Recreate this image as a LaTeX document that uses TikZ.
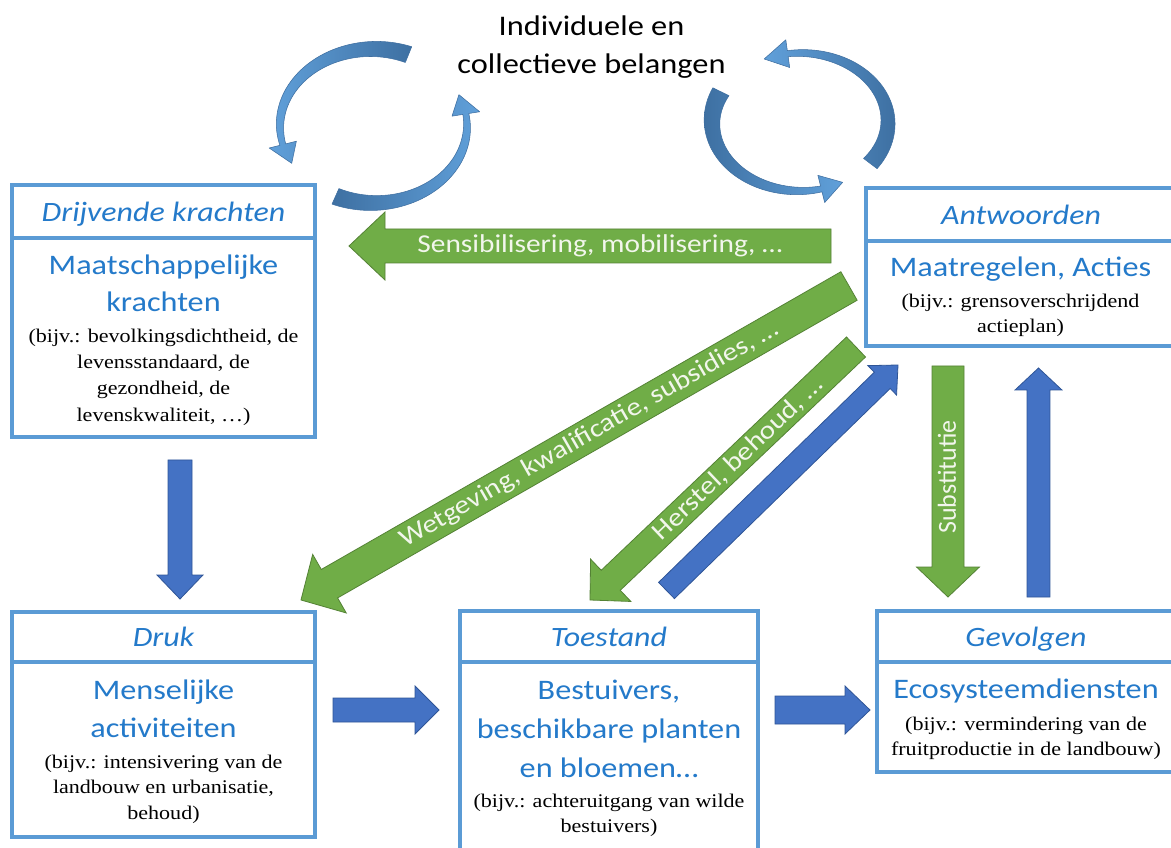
\documentclass[tikz,border=0pt]{standalone}
\usepackage{fontspec}
\usetikzlibrary{calc}
\newfontfamily\calst[FakeStretch=1.14]{Carlito}
\newfontfamily\calrot{Carlito}
\newfontfamily\serst[FakeStretch=1.14]{Liberation Serif}
\definecolor{boxblue}{RGB}{91,155,213}
\definecolor{txtblue}{RGB}{36,122,202}
\definecolor{arrblue}{RGB}{68,114,196}
\definecolor{arrblueline}{RGB}{47,85,151}
\definecolor{arrgreen}{RGB}{112,173,71}
\definecolor{arrgreenline}{RGB}{84,130,53}
\definecolor{curvedark}{RGB}{62,112,162}
\definecolor{curvelight}{RGB}{96,160,218}
\definecolor{curveline}{RGB}{62,110,160}
\definecolor{lighttxt}{RGB}{242,246,236}

% block arrow: #1 style, #2 tail, #3 tip, #4 shaft half width, #5 head half width, #6 head length
\newcommand\blockarrow[6]{%
  \coordinate (#3-hb) at ($(#3)!#6!(#2)$);
  \path[#1] ($(#2)!#4!90:(#3)$) -- ($(#3-hb)!#4!90:(#3)$) -- ($(#3-hb)!#5!90:(#3)$) -- (#3)
    -- ($(#3-hb)!#5!-90:(#3)$) -- ($(#3-hb)!#4!-90:(#3)$) -- ($(#2)!#4!-90:(#3)$) -- cycle;
}
% curved tapered arrow on an ellipse: #1 cx #2 cy #3 rx #4 ry #5 t1 #6 t2 #7 w1 #8 w2 #9 head half width
% \hd = head length (deg), \cstyle = style of the fill
\newcommand\hd{14}
\newcommand\cstyle{}
\newcommand\curvarr[9]{%
  \path[curvestyle, \cstyle]
  plot[domain=#5:#6, samples=50, variable=\t]
    ({#1+(#3+#7+(#8-#7)*(\t-(#5))/((#6)-(#5)))*cos(\t)}, {#2+(#4+#7+(#8-#7)*(\t-(#5))/((#6)-(#5)))*sin(\t)})
  -- ({#1+(#3+#9)*cos(#6)}, {#2+(#4+#9)*sin(#6)})
  -- ({#1+#3*cos(#6-\hd)}, {#2+#4*sin(#6-\hd)})
  -- ({#1+(#3-#9)*cos(#6)}, {#2+(#4-#9)*sin(#6)})
  -- plot[domain=#6:#5, samples=50, variable=\t]
    ({#1+(#3-#7-(#8-#7)*(\t-(#5))/((#6)-(#5)))*cos(\t)}, {#2+(#4-#7-(#8-#7)*(\t-(#5))/((#6)-(#5)))*sin(\t)})
  -- cycle;
}

\tikzset{
  hdr/.style={draw=boxblue, line width=2.5pt, inner sep=0pt, outer sep=0pt, text=txtblue,
    text height=16pt, text depth=1.5pt,
    font=\calst\itshape\fontsize{21pt}{25pt}\selectfont},
  bodybox/.style={draw=boxblue, line width=2.5pt, inner sep=0pt, outer sep=0pt},
  bluetxt/.style={text=txtblue, align=center, inner sep=0pt, font=\calst\fontsize{21.2pt}{#1}\selectfont},
  bluetxt/.default=27.75pt,
  extxt/.style={text=black, align=center, inner sep=0pt, font=\serst\fontsize{14.5pt}{#1}\selectfont},
  extxt/.default=19.1pt,
  titletxt/.style={text=black, align=center, inner sep=0pt, font=\calst\fontsize{21.3pt}{28.5pt}\selectfont},
  bluearrow/.style={fill=arrblue, draw=arrblueline, line width=0.6pt, line join=miter},
  greenarrow/.style={fill=arrgreen, draw=arrgreenline, line width=0.6pt, line join=miter},
  greentxt/.style={text=lighttxt, inner sep=0pt, font=\calst\fontsize{19.3pt}{22pt}\selectfont},
  greenrot/.style={text=lighttxt, inner sep=0pt, font=\calrot\fontsize{19.5pt}{22pt}\selectfont},
  curvestyle/.style={draw=curveline, line width=0.4pt, line join=round},
  darkleft/.style={left color=curvedark, right color=curvelight},
  darkright/.style={left color=curvelight, right color=curvedark},
}

\begin{document}
\begin{tikzpicture}[x=0.75pt, y=-0.75pt]
\useasboundingbox (0,0) rectangle (1171,848);
\fill[white] (0,0) rectangle (1171,848);
\clip (0,0) rectangle (1171,848);

% title
\node[titletxt] (title) at (591.5,47) {Individuele en\\collectieve belangen};

% curved arrows (left loop)
\renewcommand\hd{15}
\renewcommand\cstyle{darkright}
\curvarr{373.5}{126}{93.5}{77}{-68}{-194}{8.5}{3}{14}
\renewcommand\cstyle{darkleft}
\curvarr{373.5}{126}{93.5}{77}{114}{-9}{8.5}{3}{14}
% curved arrows (right loop)
\renewcommand\cstyle{darkleft}
\curvarr{800}{122}{88}{69}{206}{76}{9}{3}{14}
\renewcommand\hd{16}
\renewcommand\cstyle{darkright}
\curvarr{800}{122}{88}{69}{37}{-98}{8.5}{3}{14}

% Drijvende krachten
\node[hdr, minimum width=227.25pt, minimum height=39.75pt] (dkh) at (163.5,211.5) {Drijvende krachten};
\node[bodybox, minimum width=227.25pt, minimum height=149.25pt] (dkb) at (163.5,337.5) {};
\node[bluetxt=27.75pt] (dkt) at (163.5,283.5) {Maatschappelijke\\krachten};
\node[extxt=19.7pt] (dke) at (163.5,377) {(bijv.: bevolkingsdichtheid, de\\levensstandaard, de\\gezondheid, de\\levenskwaliteit, …)};

% Antwoorden
\node[hdr, minimum width=232.5pt, minimum height=39.75pt] (anh) at (1021,214.5) {Antwoorden};
\node[bodybox, minimum width=232.5pt, minimum height=78.75pt] (anb) at (1021,293.5) {};
\node[bluetxt] (ant) at (1020.5,269) {Maatregelen, Acties};
\node[extxt=18.75pt] (ane) at (1020.5,315) {(bijv.: grensoverschrijdend\\actieplan)};

% Druk
\node[hdr, minimum width=227.25pt, minimum height=37.5pt] (drh) at (163.5,637) {Druk};
\node[bodybox, minimum width=227.25pt, minimum height=131.25pt] (drb) at (163.5,749.5) {};
\node[bluetxt=28.5pt] (drt) at (163.5,709) {Menselijke\\activiteiten};
\node[extxt] (dre) at (163.5,789) {(bijv.: intensivering van de\\landbouw en urbanisatie,\\behoud)};

% Toestand
\node[hdr, minimum width=223.5pt, minimum height=38.25pt] (toh) at (609,636.5) {Toestand};
\node[bodybox, minimum width=223.5pt, minimum height=145.5pt] (tob) at (609,759) {};
\node[bluetxt=29.25pt] (tot) at (609,729) {Bestuivers,\\beschikbare planten\\en bloemen…};
\node[extxt=18.75pt] (toe) at (609,815) {(bijv.: achteruitgang van wilde\\bestuivers)};

% Gevolgen
\node[hdr, minimum width=223.5pt, minimum height=38.25pt] (gvh) at (1026,636.5) {Gevolgen};
\node[bodybox, minimum width=223.5pt, minimum height=82.5pt] (gvb) at (1026,717) {};
\node[bluetxt] (gvt) at (1026,691) {Ecosysteemdiensten};
\node[extxt=19.1pt] (gve) at (1026,738.5) {(bijv.: vermindering van de\\fruitproductie in de landbouw)};

% blue block arrows
\coordinate (b1s) at (180,460);   \coordinate (b1e) at (180,599);
\blockarrow{bluearrow}{b1s}{b1e}{9pt}{17.25pt}{18pt}
\coordinate (b2s) at (333,710);   \coordinate (b2e) at (439,710);
\blockarrow{bluearrow}{b2s}{b2e}{9pt}{18pt}{18pt}
\coordinate (b3s) at (775,710);   \coordinate (b3e) at (870,710);
\blockarrow{bluearrow}{b3s}{b3e}{10.5pt}{18pt}{18.75pt}
\coordinate (b4s) at (1038.5,597); \coordinate (b4e) at (1038.5,368);
\blockarrow{bluearrow}{b4s}{b4e}{8.6pt}{17.6pt}{16.5pt}
\coordinate (b5s) at (666.5,590.5); \coordinate (b5e) at (898,365);
\blockarrow{bluearrow}{b5s}{b5e}{8.5pt}{15.4pt}{16.5pt}

% green arrows
\coordinate (g1s) at (831,246);   \coordinate (g1e) at (349,246);
\blockarrow{greenarrow}{g1s}{g1e}{12.75pt}{25.5pt}{27pt}
\node[greentxt] (g1t) at (600,246) {Sensibilisering, mobilisering, …};

\coordinate (g2s) at (849,286);   \coordinate (g2e) at (301,600);
\blockarrow{greenarrow}{g2s}{g2e}{12.3pt}{25.3pt}{24.6pt}
\path (g2e-hb) -- (g2s) node[greentxt, midway, sloped] (g2t) {Wetgeving, kwalificatie, subsidies, …};

\coordinate (g3s) at (856,347);   \coordinate (g3e) at (590,600);
\blockarrow{greenarrow}{g3s}{g3e}{10.35pt}{21.9pt}{21.45pt}
\path (g3e-hb) -- (g3s) node[greentxt, pos=0.52, sloped] (g3t) {Herstel, behoud, …};

\coordinate (g4s) at (948,366);   \coordinate (g4e) at (948,597);
\blockarrow{greenarrow}{g4s}{g4e}{12pt}{23.6pt}{22.5pt}
\node[greenrot, rotate=90] (g4t) at (947,477) {Substitutie};

\end{tikzpicture}
\end{document}
